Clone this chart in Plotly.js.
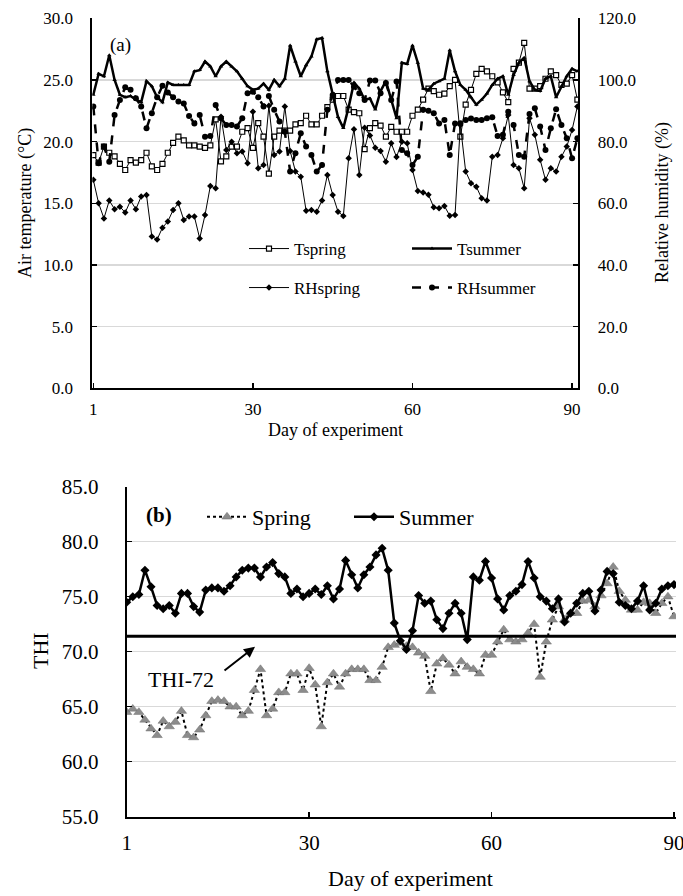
<!DOCTYPE html>
<html><head><meta charset="utf-8">
<script src="https://cdn.plot.ly/plotly-3.0.1.min.js"></script>
<style>html,body{margin:0;padding:0;background:#fff}#chart{width:683px;height:896px}</style>
</head><body><div id="chart"></div>
<script>
// ---------- data ----------
const dayTickVals = [0, 30, 60, 90];
const dayTickText = ['1', '30', '60', '90'];

const T_spring = [18.9,18.3,19.6,19.1,18.8,18.2,17.7,18.5,18.3,18.5,
 19.1,18.0,17.7,18.2,19.1,19.9,20.4,20.1,19.7,19.7,
 19.6,19.5,19.7,21.8,18.4,18.8,19.6,19.6,20.8,21.1,
 19.5,21.5,20.4,17.4,20.4,20.9,20.9,20.9,21.4,21.5,
 22.1,21.4,21.4,22.1,22.8,23.4,23.7,23.7,22.6,22.4,
 22.3,19.4,21.1,21.5,21.3,20.4,21.2,20.8,20.8,20.8,
 22.1,22.6,23.4,24.3,24.1,23.8,23.9,24.5,25.0,20.4,
 23.0,24.2,25.5,25.9,25.7,25.3,24.8,24.0,23.2,25.9,
 26.4,28.0,24.3,24.3,24.5,25.1,25.7,25.4,24.6,24.7,
 25.4,23.4];
const T_summer = [23.8,25.5,25.3,27.0,25.0,23.8,23.6,23.7,23.4,23.2,
 24.9,24.5,23.6,23.2,24.8,24.6,24.6,24.6,24.6,25.7,
 25.8,26.5,26.1,25.3,26.1,26.5,26.1,25.7,25.1,24.5,
 24.2,24.3,24.7,24.2,25.0,24.5,25.1,27.8,26.5,25.3,
 26.2,26.9,28.3,28.4,25.7,23.9,22.0,21.1,22.8,24.8,
 24.3,23.4,23.5,22.6,24.1,24.9,23.5,21.9,26.4,26.3,
 27.8,26.4,24.3,24.2,24.7,24.9,25.1,27.4,25.7,24.6,
 24.2,23.6,23.0,23.4,23.9,24.6,25.1,25.3,23.8,25.4,
 26.4,26.8,24.9,24.2,24.1,25.1,25.3,23.6,24.5,25.3,
 25.9,25.7];
const RH_spring = [67.6,60.0,55.1,60.9,58.1,58.9,57.0,60.9,58.1,62.2,
 62.7,49.2,48.3,52.1,54.1,57.8,60.0,54.6,55.7,55.7,
 48.6,56.2,65.6,64.9,88.1,77.3,80.0,76.2,76.8,73.0,
 89.7,71.4,72.4,91.6,75.7,76.8,91.4,77.0,70.3,68.6,
 57.6,57.8,57.3,60.9,69.2,62.7,57.3,55.9,74.6,84.0,
 69.2,84.5,82.0,78.0,77.0,73.5,79.5,75.0,80.0,79.5,
 70.8,64.0,63.5,62.8,58.7,58.4,59.1,56.0,56.2,85.4,
 70.3,66.5,65.4,61.6,60.9,75.1,75.7,81.1,88.6,72.4,
 71.4,64.9,87.6,82.2,74.1,67.6,71.4,70.3,75.1,78.4,
 83.8,91.4];
const RH_summer = [91.4,73.0,78.4,73.5,88.6,93.5,97.6,96.8,94.1,91.4,
 84.3,89.2,94.4,98.1,95.9,94.4,93.0,92.4,88.3,85.9,
 88.6,81.6,81.8,91.9,87.6,85.4,85.4,84.9,87.6,95.7,
 96.2,94.4,91.4,94.8,90.3,86.5,83.2,70.3,76.2,82.7,
 78.4,75.7,70.3,72.4,90.3,95.1,100.0,100.0,100.0,97.8,
 95.7,93.5,99.8,99.8,95.7,99.0,93.5,99.5,77.3,76.2,
 72.4,75.1,90.3,90.0,89.2,85.9,87.0,75.7,85.9,86.0,
 87.0,87.5,87.0,87.0,87.6,87.9,81.8,82.2,89.7,85.4,
 75.7,75.1,89.0,90.8,84.9,77.3,84.3,90.5,85.4,81.1,
 74.6,81.1];

const THI_spring = [64.5,64.8,64.5,63.8,63.0,62.4,63.7,63.2,63.6,64.6,
 62.4,62.2,62.9,64.2,65.5,65.6,65.5,65.0,65.0,64.2,
 64.6,66.5,68.4,64.2,64.8,66.3,66.3,68.0,68.0,66.5,
 68.5,67.0,63.2,67.2,68.0,66.8,68.0,68.4,68.4,68.4,
 67.4,67.4,68.6,70.4,70.6,70.8,
 70.5,70.4,69.9,69.6,66.4,68.9,69.4,68.8,68.0,69.1,
 68.6,68.4,68.0,69.7,69.7,70.9,72.0,71.1,70.9,71.1,
 71.7,72.5,67.7,70.9,72.9,74.1,72.9,73.5,73.5,74.6,
 74.7,74.1,75.1,76.2,77.7,75.5,74.7,73.8,73.8,74.5,
 74.4,73.5,74.4,75.0,73.2];
const THI_summer = [74.5,75.0,75.2,77.4,75.9,74.2,73.9,74.2,73.5,75.3,
 75.3,74.1,73.6,75.6,75.8,75.8,75.5,76.0,76.8,77.4,
 77.6,77.6,76.8,77.7,78.1,77.1,76.8,75.3,75.7,75.0,
 75.3,75.7,75.2,76.0,74.8,75.7,78.3,77.0,75.8,77.0,
 77.7,78.8,79.4,77.4,72.6,71.0,70.2,71.9,75.1,74.4,
 74.6,72.9,72.1,73.5,74.4,73.5,71.1,76.8,76.5,78.2,
 76.7,74.8,73.8,75.1,75.5,76.1,78.2,76.7,75.0,74.6,
 73.9,74.8,72.7,73.5,74.4,75.3,75.5,73.7,75.6,77.3,
 77.1,74.5,74.2,73.9,74.6,76.0,73.8,74.4,75.7,76.0,
 76.1];
const THI_limit = 71.4;

// ---------- layout helpers ----------
const W = 683, H = 896;
const px = v => v / W;
const py = v => 1 - v / H;
const FONT = 'Liberation Serif, Times New Roman, serif';
const idx = arr => arr.map((_, i) => i);

const traces = [
  {x: idx(T_spring), y: T_spring, name: 'Tspring', type: 'scatter', mode: 'lines+markers',
   xaxis: 'x', yaxis: 'y', legend: 'legend',
   line: {color: '#000', width: 1},
   marker: {symbol: 'square', size: 5, color: '#fff', line: {color: '#000', width: 1.2}}},
  {x: idx(T_summer), y: T_summer, name: 'Tsummer', type: 'scatter', mode: 'lines+markers',
   xaxis: 'x', yaxis: 'y', legend: 'legend',
   line: {color: '#000', width: 2.5},
   marker: {symbol: 'triangle-up', size: 4, color: '#000'}},
  {x: idx(RH_spring), y: RH_spring, name: 'RHspring', type: 'scatter', mode: 'lines+markers',
   xaxis: 'x', yaxis: 'y2', legend: 'legend2',
   line: {color: '#000', width: 1},
   marker: {symbol: 'diamond', size: 5, color: '#000'}},
  {x: idx(RH_summer), y: RH_summer, name: 'RHsummer', type: 'scatter', mode: 'lines+markers',
   xaxis: 'x', yaxis: 'y2', legend: 'legend2',
   line: {color: '#000', width: 2.5, dash: 'dash'},
   marker: {symbol: 'circle', size: 6, color: '#000'}},
  {x: idx(THI_spring), y: THI_spring, name: 'Spring', type: 'scatter', mode: 'lines+markers',
   xaxis: 'x2', yaxis: 'y3', legend: 'legend3',
   line: {color: '#000', width: 2, dash: 'dot'},
   marker: {symbol: 'triangle-up', size: 9, color: '#8c8c8c', line: {color: '#6e6e6e', width: 0.5}}},
  {x: idx(THI_summer), y: THI_summer, name: 'Summer', type: 'scatter', mode: 'lines+markers',
   xaxis: 'x2', yaxis: 'y3', legend: 'legend3',
   line: {color: '#000', width: 2.5},
   marker: {symbol: 'diamond', size: 7, color: '#000'}}
];

const axBase = {showline: true, linecolor: '#000', linewidth: 2, zeroline: false,
  ticks: 'inside', ticklen: 5, tickwidth: 1.5, tickcolor: '#000', fixedrange: true,
  ticklabeloverflow: 'allow'};

function ann(text, x, y, size, extra) {
  return Object.assign({text: text, xref: 'paper', yref: 'paper', x: px(x), y: py(y),
    xanchor: 'center', yanchor: 'middle', showarrow: false, font: {size: size}}, extra || {});
}

const layout = {
  width: W, height: H, margin: {l: 0, r: 0, t: 0, b: 0},
  paper_bgcolor: '#fff', plot_bgcolor: '#fff',
  font: {family: FONT, color: '#000', size: 17},
  xaxis: Object.assign({}, axBase, {domain: [px(92.3), px(578.3)], anchor: 'y',
    range: [-0.19, 91.17], tickvals: dayTickVals, ticktext: dayTickText,
    showgrid: false, tickfont: {size: 17}, ticklabelstandoff: 4}),
  yaxis: Object.assign({}, axBase, {domain: [py(388.3), py(18.3)], anchor: 'x',
    range: [0, 30], dtick: 5, tickformat: '.1f', showgrid: true, gridcolor: '#d9d9d9', gridwidth: 1.5,
    tickfont: {size: 17}, ticklabelstandoff: 14}),
  yaxis2: Object.assign({}, axBase, {overlaying: 'y', side: 'right', anchor: 'x',
    range: [0, 120], dtick: 20, tickformat: '.1f', showgrid: false,
    tickfont: {size: 17}, ticklabelstandoff: 14}),
  xaxis2: Object.assign({}, axBase, {domain: [px(126.7), px(676)], anchor: 'y3',
    range: [0, 90.33], tickvals: dayTickVals, ticktext: dayTickText,
    showgrid: false, tickfont: {size: 21}, ticklabelstandoff: 6}),
  yaxis3: Object.assign({}, axBase, {domain: [py(816.7), py(486.7)], anchor: 'x2',
    range: [55, 85], dtick: 5, tickformat: '.1f', showgrid: true, gridcolor: '#d9d9d9', gridwidth: 1.5,
    tickfont: {size: 21}, ticklabelstandoff: 22}),
  legend: {orientation: 'h', x: px(244), y: py(249), xanchor: 'left', yanchor: 'middle',
    bgcolor: 'rgba(0,0,0,0)', font: {size: 17}, entrywidth: 108, itemwidth: 40},
  legend2: {orientation: 'h', x: px(244), y: py(288), xanchor: 'left', yanchor: 'middle',
    bgcolor: 'rgba(0,0,0,0)', font: {size: 17}, entrywidth: 108, itemwidth: 40},
  legend3: {orientation: 'h', x: px(202), y: py(517), xanchor: 'left', yanchor: 'middle',
    bgcolor: 'rgba(0,0,0,0)', font: {size: 22}, entrywidth: 92, itemwidth: 40},
  shapes: [
    {type: 'line', xref: 'x2 domain', yref: 'y3', x0: 0, x1: 1, y0: THI_limit, y1: THI_limit,
     line: {color: '#000', width: 3}}
  ],
  annotations: [
    ann('(a)', 120, 45, 19),
    ann('<b>(b)</b>', 159, 515, 21),
    ann('Air temperature (°C)', 25, 203, 18, {textangle: -90}),
    ann('Relative humidity (%)', 662, 203, 18, {textangle: -90}),
    ann('Day of experiment', 335, 430, 18),
    ann('THI', 40, 651, 22, {textangle: -90}),
    ann('Day of experiment', 410, 878, 22),
    {text: 'THI-72', xref: 'x2', yref: 'y3', x: 8.9, y: 67.45, xanchor: 'center', yanchor: 'middle',
     showarrow: false, font: {size: 22}},
    {text: '', xref: 'x2', yref: 'y3', x: 21.1, y: 70.45, ax: -32, ay: 25,
     showarrow: true, arrowhead: 2, arrowsize: 1.1, arrowwidth: 2, arrowcolor: '#000'}
  ],
  showlegend: true
};

Plotly.newPlot('chart', traces, layout, {displayModeBar: false, staticPlot: true});
</script>
</body></html>
